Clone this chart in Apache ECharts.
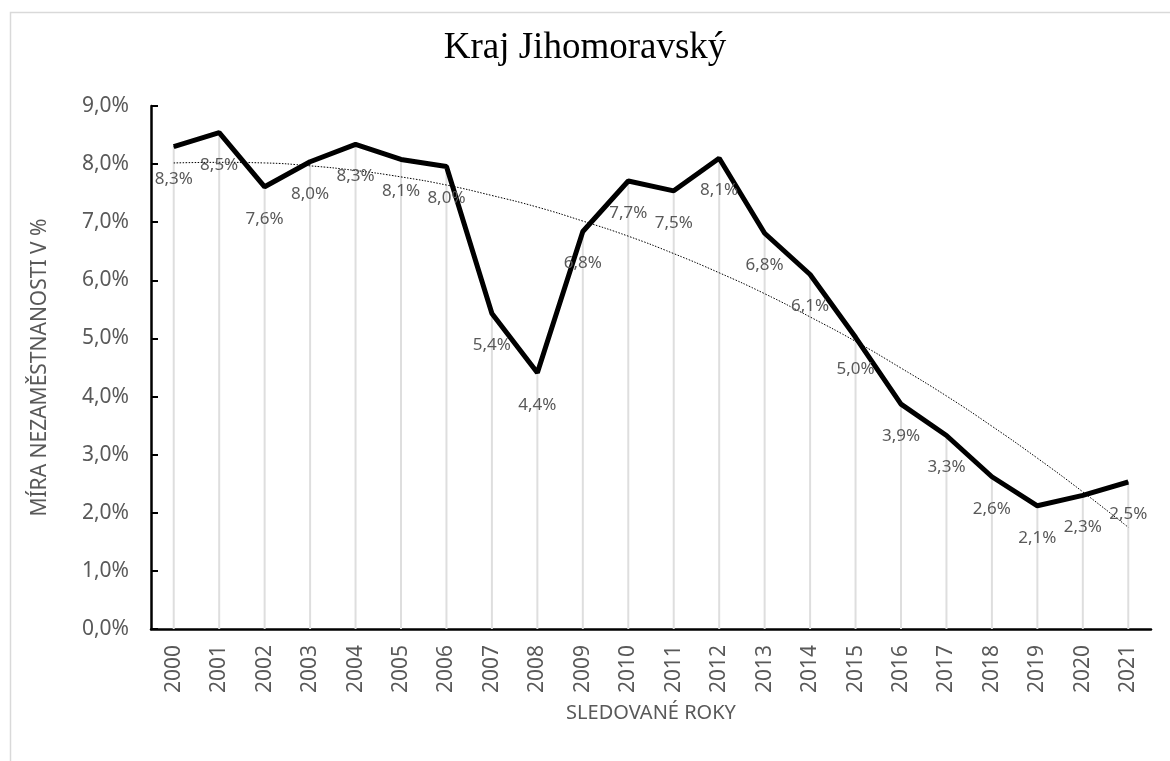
<!DOCTYPE html>
<html>
<head>
<meta charset="utf-8">
<script src="https://cdn.jsdelivr.net/npm/echarts@6/dist/echarts.min.js"></script>
<style>html,body{margin:0;padding:0;background:#fff}#c{width:1170px;height:761px}</style>
</head>
<body>
<div id="c"></div>
<script>
const years = ['2000','2001','2002','2003','2004','2005','2006','2007','2008','2009','2010','2011','2012','2013','2014','2015','2016','2017','2018','2019','2020','2021'];
const unemployment = [8.30, 8.54, 7.61, 8.04, 8.34, 8.08, 7.96, 5.43, 4.41, 6.84, 7.71, 7.54, 8.10, 6.81, 6.10, 5.02, 3.87, 3.33, 2.62, 2.12, 2.30, 2.53];
const trend = [8.02, 8.03, 8.02, 7.97, 7.89, 7.78, 7.64, 7.46, 7.26, 7.02, 6.76, 6.46, 6.13, 5.77, 5.37, 4.95, 4.49, 4.01, 3.49, 2.94, 2.36, 1.75];
const yTicks = ['0,0%','1,0%','2,0%','3,0%','4,0%','5,0%','6,0%','7,0%','8,0%','9,0%'];

const fmt = v => v.toFixed(1).replace('.', ',') + '%';
const chart = echarts.init(document.getElementById('c'));
chart.setOption({
  animation: false,
  backgroundColor: '#fff',
  graphic: [{
    type: 'rect', left: 8, top: 10, shape: {width: 1300, height: 900},
    style: {fill: 'none', stroke: '#d9d9d9', lineWidth: 1.5}, silent: true
  }],
  title: {
    text: 'Kraj Jihomoravský', left: 'center', top: 25,
    textStyle: {fontFamily: 'Liberation Serif', fontSize: 37, fontWeight: 'normal', color: '#000'}
  },
  grid: {left: 151, right: 19, top: 106, bottom: 132},
  xAxis: {
    type: 'category', data: years, boundaryGap: true,
    name: 'SLEDOVANÉ ROKY', nameLocation: 'middle', nameGap: 74,
    nameTextStyle: {fontFamily: 'Noto Sans', fontSize: 20, color: '#595959'},
    axisLine: {lineStyle: {color: '#000', width: 2.5}},
    axisTick: {show: false},
    axisLabel: {rotate: 90, margin: 16, fontFamily: 'Noto Sans', fontSize: 21, color: '#595959'}
  },
  yAxis: {
    type: 'value', min: 0, max: 9, interval: 1,
    name: 'MÍRA NEZAMĚSTNANOSTI V %', nameLocation: 'middle', nameGap: 100,
    nameTextStyle: {fontFamily: 'Noto Sans', fontSize: 21, color: '#595959'},
    axisLine: {show: true, lineStyle: {color: '#000', width: 2.5}},
    axisTick: {show: true, inside: true, length: 7, lineStyle: {color: '#000', width: 2}},
    splitLine: {show: false},
    axisLabel: {margin: 22, fontFamily: 'Noto Sans', fontSize: 21, color: '#595959',
      formatter: (v) => yTicks[Math.round(v)]}
  },
  series: [
    {
      type: 'bar', data: unemployment, barWidth: 2, silent: true,
      itemStyle: {color: '#dedede'}, z: 1
    },
    {
      type: 'line', data: trend, smooth: true, symbol: 'none', silent: true,
      lineStyle: {color: '#000', width: 1, type: [1.5, 1.5]}, z: 2
    },
    {
      type: 'line', data: unemployment, symbol: 'circle', symbolSize: 1, showSymbol: true,
      itemStyle: {color: '#000'},
      lineStyle: {color: '#000', width: 5}, z: 3,
      label: {show: true, position: 'bottom', distance: 23, fontFamily: 'Noto Sans', fontSize: 17,
        color: '#595959', formatter: p => fmt(p.value)}
    }
  ]
});
</script>
</body>
</html>
